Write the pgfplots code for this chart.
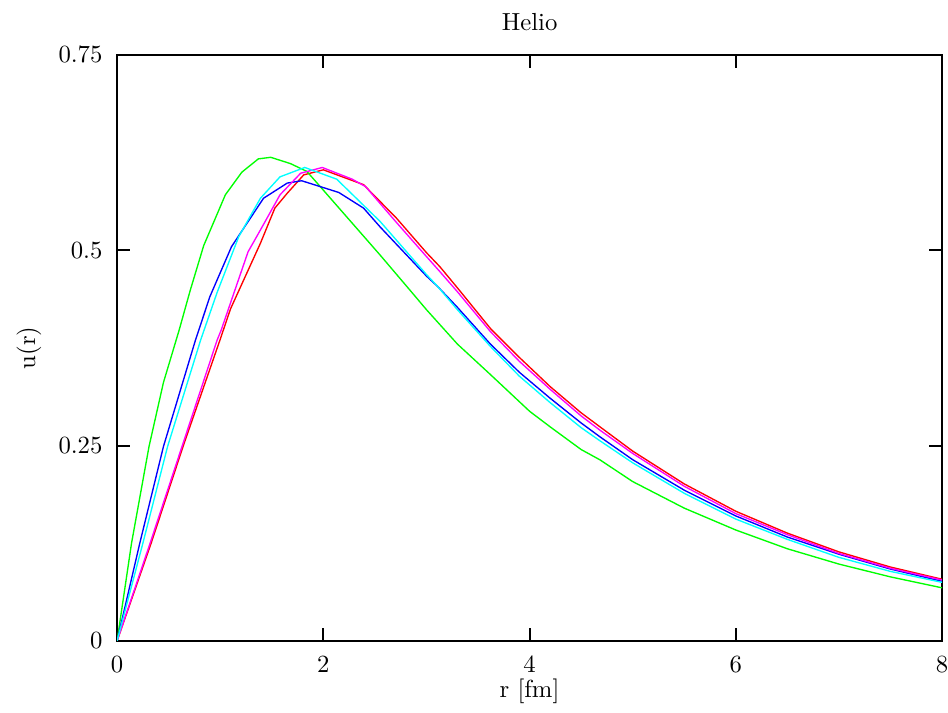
\documentclass[border=0pt]{standalone}
\usepackage{pgfplots}
\pgfplotsset{compat=1.18}
\usepackage{pgfplotstable}

% Radial functions u(r) for helium, five parametrisations
\pgfplotstableread{
r u
0 0
0.33 0.125
0.64 0.249
1.00 0.386
1.10 0.425
1.39 0.509
1.53 0.554
1.65 0.573
1.81 0.5965
2.00 0.603
2.39 0.584
2.71 0.541
3.00 0.497
3.13 0.479
3.30 0.452
3.62 0.400
3.90 0.363
4.20 0.3255
4.50 0.292
4.68 0.2743
5.00 0.243
5.50 0.201
6.00 0.166
6.50 0.138
7.00 0.114
7.50 0.0946
8.00 0.079
}\ured

\pgfplotstableread{
r u
0 0
0.14 0.125
0.31 0.249
0.45 0.331
0.60 0.397
0.71 0.449
0.84 0.506
1.05 0.571
1.21 0.600
1.37 0.617
1.49 0.619
1.68 0.611
1.84 0.601
2.00 0.577
2.55 0.494
2.84 0.449
3.00 0.424
3.30 0.380
3.62 0.341
4.00 0.294
4.20 0.274
4.50 0.245
4.68 0.232
5.00 0.204
5.50 0.170
6.00 0.142
6.50 0.118
7.00 0.0984
7.50 0.082
8.00 0.068
}\ugreen

\pgfplotstableread{
r u
0 0
0.22 0.125
0.45 0.249
0.76 0.385
0.90 0.4407
1.11 0.5047
1.42 0.5666
1.65 0.586
1.79 0.589
2.15 0.574
2.39 0.554
2.55 0.530
3.00 0.467
3.11 0.4535
3.30 0.427
3.62 0.380
3.90 0.344
4.20 0.3106
4.50 0.279
4.68 0.2615
5.00 0.232
5.50 0.193
6.00 0.160
6.50 0.133
7.00 0.111
7.50 0.092
8.00 0.0764
}\ublue

\pgfplotstableread{
r u
0 0
0.32 0.125
0.63 0.249
0.97 0.385
1.01 0.398
1.27 0.498
1.39 0.526
1.58 0.571
1.78 0.5986
1.99 0.606
2.28 0.591
2.41 0.5815
2.70 0.537
3.00 0.492
3.13 0.4727
3.30 0.447
3.62 0.396
3.90 0.358
4.20 0.322
4.50 0.288
4.68 0.270
5.00 0.240
5.50 0.198
6.00 0.163
6.50 0.136
7.00 0.112
7.50 0.093
8.00 0.078
}\umagenta

\pgfplotstableread{
r u
0 0
0.25 0.125
0.49 0.249
0.81 0.385
0.97 0.446
1.18 0.5175
1.39 0.5666
1.58 0.594
1.82 0.606
2.13 0.591
2.55 0.537
3.00 0.469
3.11 0.4535
3.30 0.424
3.62 0.377
3.90 0.339
4.20 0.305
4.50 0.273
4.68 0.2564
5.00 0.228
5.50 0.189
6.00 0.156
6.50 0.130
7.00 0.107
7.50 0.089
8.00 0.075
}\ucyan

\begin{document}
\begin{tikzpicture}
\begin{axis}[
  at={(0,0)}, anchor=south west,
  scale only axis,
  width=334pt, height=237.25pt,
  xmin=0, xmax=8, ymin=0, ymax=0.75,
  xtick={0,2,4,6,8},
  ytick={0,0.25,0.5,0.75},
  scaled ticks=false,
  tick align=inside, tick pos=both,
  major tick length=5.3pt,
  minor tick num=0,
  axis line style={line width=0.8pt, black},
  every tick/.style={line width=0.8pt, black},
  xticklabel style={yshift=-2.7pt},
  yticklabel style={xshift=-2.4pt},
  title={Helio},
  title style={at={(axis description cs:0.5,1)}, anchor=base, yshift=3.7pt, inner sep=0pt},
  xlabel={r [fm]},
  xlabel style={at={(axis description cs:0.5,0)}, anchor=base, yshift=-22.7pt, inner sep=0pt},
  ylabel={u(r)},
  ylabel style={at={(axis description cs:-0.1069,0.5)}, anchor=center},
  every axis plot/.append style={line width=0.55pt, mark=none},
]
\addplot[color={rgb,255:red,255;green,0;blue,0}] table[x=r,y=u] {\ured};
\addplot[color={rgb,255:red,0;green,255;blue,0}] table[x=r,y=u] {\ugreen};
\addplot[color={rgb,255:red,0;green,0;blue,255}] table[x=r,y=u] {\ublue};
\addplot[color={rgb,255:red,255;green,0;blue,255}] table[x=r,y=u] {\umagenta};
\addplot[color={rgb,255:red,0;green,255;blue,255}] table[x=r,y=u] {\ucyan};
\end{axis}
\pgfresetboundingbox
\path[use as bounding box] (-47.4pt,-29.15pt) rectangle (336.4pt,259.5pt);
\end{tikzpicture}
\end{document}
